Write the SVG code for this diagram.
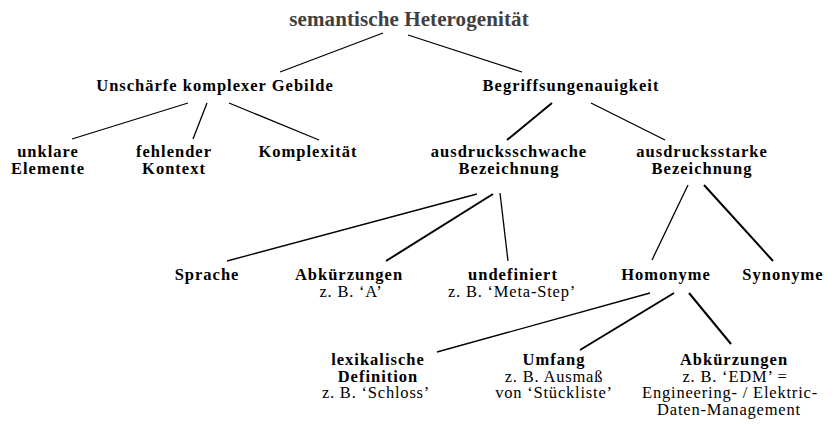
<svg xmlns="http://www.w3.org/2000/svg" width="836" height="424" viewBox="0 0 836 424" font-family="'Liberation Serif', 'Times New Roman', serif">
<style>
text{font-family:"Liberation Serif","Times New Roman",serif;font-size:16.5px;text-anchor:middle;fill:#000;letter-spacing:0.8px}
.b{font-weight:bold;letter-spacing:1px}
.title{font-size:21px;font-weight:bold;fill:#404040;letter-spacing:0.1px}
.c line{stroke:#000;stroke-width:1.3}
.c line.t{stroke-width:2}
</style>
<rect width="836" height="424" fill="#fff"/>
<g class="c" id="connectors">
<line x1="383" y1="33" x2="280" y2="72"/>
<line x1="408" y1="35" x2="522" y2="72"/>
<line x1="188" y1="103" x2="72" y2="139"/>
<line x1="207" y1="103" x2="193" y2="139"/>
<line x1="229" y1="103" x2="319" y2="140"/>
<line class="t" x1="552" y1="103" x2="507" y2="140"/>
<line x1="591" y1="103" x2="665" y2="140"/>
<line x1="477" y1="194" x2="227" y2="261"/>
<line class="t" x1="493" y1="194" x2="386" y2="261"/>
<line x1="500" y1="193" x2="508" y2="261"/>
<line x1="688" y1="185" x2="652" y2="260"/>
<line class="t" x1="704" y1="185" x2="773" y2="261"/>
<line x1="650" y1="293" x2="437" y2="352"/>
<line class="t" x1="674" y1="293" x2="580" y2="350"/>
<line class="t" x1="689" y1="293" x2="731" y2="344"/>
</g>
<g id="n-root"><text class="title" x="409" y="26">semantische Heterogenität</text></g>
<g id="n-unschaerfe"><text class="b" x="215" y="91">Unschärfe komplexer Gebilde</text></g>
<g id="n-begriff"><text class="b" x="571" y="91">Begriffsungenauigkeit</text></g>
<g id="n-unklare"><text class="b" x="48" y="157">unklare</text><text class="b" x="48" y="173.5">Elemente</text></g>
<g id="n-fehlender"><text class="b" x="174" y="157">fehlender</text><text class="b" x="174" y="173.5">Kontext</text></g>
<g id="n-komplex"><text class="b" x="308" y="157">Komplexität</text></g>
<g id="n-schwach"><text class="b" x="509" y="157">ausdrucksschwache</text><text class="b" x="509" y="173.5">Bezeichnung</text></g>
<g id="n-stark"><text class="b" x="702" y="157">ausdrucksstarke</text><text class="b" x="702" y="173.5">Bezeichnung</text></g>
<g id="n-sprache"><text class="b" x="207" y="280">Sprache</text></g>
<g id="n-abk1"><text class="b" x="349" y="280">Abkürzungen</text><text x="351" y="296.5">z. B. ‘A’</text></g>
<g id="n-undef"><text class="b" x="513" y="280">undefiniert</text><text x="512" y="296.5">z. B. ‘Meta-Step’</text></g>
<g id="n-homonyme"><text class="b" x="666" y="280">Homonyme</text></g>
<g id="n-synonyme"><text class="b" x="783" y="280">Synonyme</text></g>
<g id="n-lex"><text class="b" x="378" y="365">lexikalische</text><text class="b" x="378" y="381.7">Definition</text><text x="376" y="398.3">z. B. ‘Schloss’</text></g>
<g id="n-umfang"><text class="b" x="554" y="365">Umfang</text><text x="554" y="381.7">z. B. Ausmaß</text><text x="554" y="398.3">von ‘Stückliste’</text></g>
<g id="n-abk2"><text class="b" x="734" y="365">Abkürzungen</text><text x="735" y="381.7">z. B. ‘EDM’ =</text><text x="730" y="398.3">Engineering- / Elektric-</text><text x="729" y="415">Daten-Management</text></g>
</svg>
